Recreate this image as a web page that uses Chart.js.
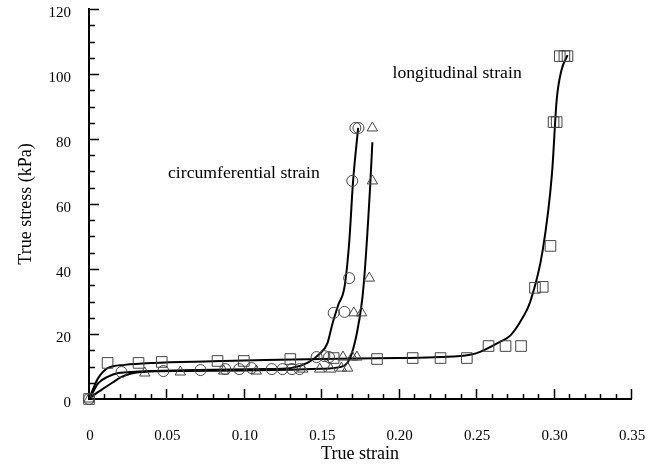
<!DOCTYPE html>
<html>
<head>
<meta charset="utf-8">
<script src="https://cdn.jsdelivr.net/npm/chart.js@4.4.0/dist/chart.umd.min.js"></script>
<style>
  body { margin: 0; background: #fff; }
  canvas { display: block; }
</style>
</head>
<body>
<canvas id="grafico" width="658" height="465"></canvas>
<script>
// measured points: longitudinal (squares)
const longX = [0, 0.012, 0.032, 0.047, 0.083, 0.100, 0.130, 0.158, 0.186, 0.209, 0.227, 0.244, 0.258, 0.269, 0.279, 0.288, 0.293, 0.298, 0.300, 0.302, 0.304, 0.307, 0.309];
const longY = [0, 11.1, 11.1, 11.4, 11.7, 11.7, 12.3, 12.6, 12.3, 12.6, 12.6, 12.6, 16.3, 16.3, 16.3, 34.2, 34.5, 47.1, 85.2, 85.2, 105.5, 105.5, 105.5];

// circumferential, first sample (circles)
const circX = [0, 0.021, 0.048, 0.072, 0.088, 0.097, 0.105, 0.118, 0.125, 0.131, 0.136, 0.147, 0.152, 0.155, 0.158, 0.165, 0.168, 0.170, 0.172, 0.174];
const circY = [0, 8.3, 8.6, 8.9, 9.2, 9.2, 9.5, 9.2, 9.2, 9.2, 9.2, 12.9, 13.2, 12.9, 26.5, 26.8, 37.2, 67.1, 83.4, 83.4];

// circumferential, second sample (triangles)
const triX = [0, 0.036, 0.059, 0.087, 0.108, 0.138, 0.149, 0.156, 0.163, 0.167, 0.164, 0.170, 0.173, 0.171, 0.176, 0.181, 0.183, 0.183];
const triY = [0, 8.0, 8.3, 8.6, 8.6, 9.2, 9.2, 9.2, 9.5, 9.5, 12.9, 12.9, 12.9, 26.5, 26.5, 37.2, 67.1, 83.4];

// fitted curves
const longCurveX = [0, 0.003, 0.006, 0.012, 0.023, 0.041, 0.08, 0.114, 0.15, 0.2, 0.227, 0.246, 0.2526, 0.265, 0.272, 0.28, 0.285, 0.293, 0.299, 0.302, 0.305, 0.309];
const longCurveY = [0, 3.5, 6.5, 9.5, 10.5, 11.1, 11.6, 12.0, 12.3, 12.6, 12.9, 13.6, 14.5, 17.5, 19.5, 25, 30, 45.8, 69.5, 92, 101, 105.8];

const circCurveX = [0, 0.003, 0.006, 0.012, 0.019, 0.03, 0.041, 0.07, 0.114, 0.13, 0.141, 0.148, 0.154, 0.157, 0.161, 0.165, 0.168, 0.1705, 0.1738];
const circCurveY = [0, 2.5, 4.9, 6.8, 8.0, 8.4, 8.6, 8.9, 9.2, 9.5, 11.1, 13.5, 17.2, 22.8, 29, 34.5, 48, 66.8, 83.4];

const triCurveX = [0, 0.004, 0.008, 0.015, 0.021, 0.034, 0.062, 0.1, 0.13, 0.15, 0.162, 0.1686, 0.173, 0.1764, 0.178, 0.1815, 0.183];
const triCurveY = [0, 1.5, 2.8, 5, 6.8, 8.3, 8.6, 8.8, 9.0, 9.3, 9.8, 12.6, 20.3, 30.5, 38.8, 65, 79];

// texts
const xTitle = 'True strain';
const yTitle = 'True stress (kPa)';
const notas = [
  { text: 'longitudinal strain', x: 0.196, y: 98.8 },
  { text: 'circumferential strain', x: 0.051, y: 68 }
];

const serif = '"Liberation Serif", "DejaVu Serif", serif';

function puntos(xs, ys) {
  return xs.map((x, i) => ({ x: x, y: ys[i] }));
}

function marcadores(label, xs, ys, estilo, radio) {
  return {
    label: label,
    data: puntos(xs, ys),
    showLine: false,
    pointStyle: estilo,
    pointRadius: radio,
    pointBorderWidth: 1,
    pointBorderColor: '#444',
    pointBackgroundColor: 'rgba(0,0,0,0)',
    clip: false
  };
}

function curva(label, xs, ys) {
  return {
    label: label,
    data: puntos(xs, ys),
    showLine: true,
    borderColor: '#000',
    borderWidth: 2,
    pointRadius: 0,
    cubicInterpolationMode: 'monotone',
    clip: false
  };
}

// tick marks drawn inside the plot area, major + minor
const marcasPlugin = {
  id: 'marcas',
  afterDraw(chart) {
    const ctx = chart.ctx;
    const xs = chart.scales.x, ys = chart.scales.y;
    const base = ys.getPixelForValue(0);
    const left = xs.getPixelForValue(0);
    ctx.save();
    ctx.strokeStyle = '#000';
    ctx.lineWidth = 1.5;
    for (let i = 1; i <= 35; i++) {
      const px = Math.round(xs.getPixelForValue(i / 100)) + 0.5;
      const len = i % 5 === 0 ? 10 : 5;
      ctx.beginPath();
      ctx.moveTo(px, base);
      ctx.lineTo(px, base - len);
      ctx.stroke();
    }
    for (let v = 5; v <= 120; v += 5) {
      const py = Math.round(ys.getPixelForValue(v)) + 0.5;
      const len = v % 20 === 0 ? 10 : 6;
      ctx.beginPath();
      ctx.moveTo(left, py);
      ctx.lineTo(left + len, py);
      ctx.stroke();
    }
    // notes
    ctx.fillStyle = '#000';
    ctx.font = '17.7px ' + serif;
    ctx.textBaseline = 'alphabetic';
    ctx.textAlign = 'left';
    notas.forEach(n => {
      ctx.fillText(n.text, xs.getPixelForValue(n.x), ys.getPixelForValue(n.y));
    });
    ctx.restore();
  }
};

new Chart(document.getElementById('grafico'), {
  type: 'scatter',
  data: {
    datasets: [
      marcadores('longitudinal', longX, longY, 'rect', 7.5),
      marcadores('circumferential 1', circX, circY, 'circle', 5.5),
      marcadores('circumferential 2', triX, triY, 'triangle', 6),
      curva('longitudinal fit', longCurveX, longCurveY),
      curva('circumferential fit 1', circCurveX, circCurveY),
      curva('circumferential fit 2', triCurveX, triCurveY)
    ]
  },
  options: {
    responsive: false,
    animation: false,
    layout: { padding: { left: 0, right: 27, top: 9, bottom: 0 } },
    plugins: {
      legend: { display: false },
      tooltip: { enabled: false }
    },
    scales: {
      x: {
        type: 'linear',
        min: 0,
        max: 0.35,
        grid: { display: false, drawTicks: false },
        border: { display: true, color: '#000', width: 2 },
        ticks: {
          stepSize: 0.05,
          padding: 28,
          labelOffset: 1,
          color: '#000',
          font: { family: serif, size: 15 },
          maxRotation: 0
        },
        title: {
          display: true,
          text: xTitle,
          color: '#000',
          font: { family: serif, size: 18 },
          padding: { top: 0, bottom: 0 }
        },
        afterFit(scale) {
          scale.height = 66;
          scale.paddingLeft = 0;
          scale.paddingRight = 0;
        }
      },
      y: {
        type: 'linear',
        min: 0,
        max: 120,
        grid: { display: false, drawTicks: false },
        border: { display: true, color: '#000', width: 2 },
        ticks: {
          stepSize: 20,
          padding: 18,
          labelOffset: 4,
          color: '#000',
          font: { family: serif, size: 15 }
        },
        title: {
          display: true,
          text: yTitle,
          color: '#000',
          font: { family: serif, size: 18 },
          padding: { top: 15, bottom: 0 }
        },
        afterFit(scale) {
          scale.width = 89;
          scale.paddingTop = 0;
          scale.paddingBottom = 0;
        }
      }
    }
  },
  plugins: [marcasPlugin]
});
</script>
</body>
</html>
